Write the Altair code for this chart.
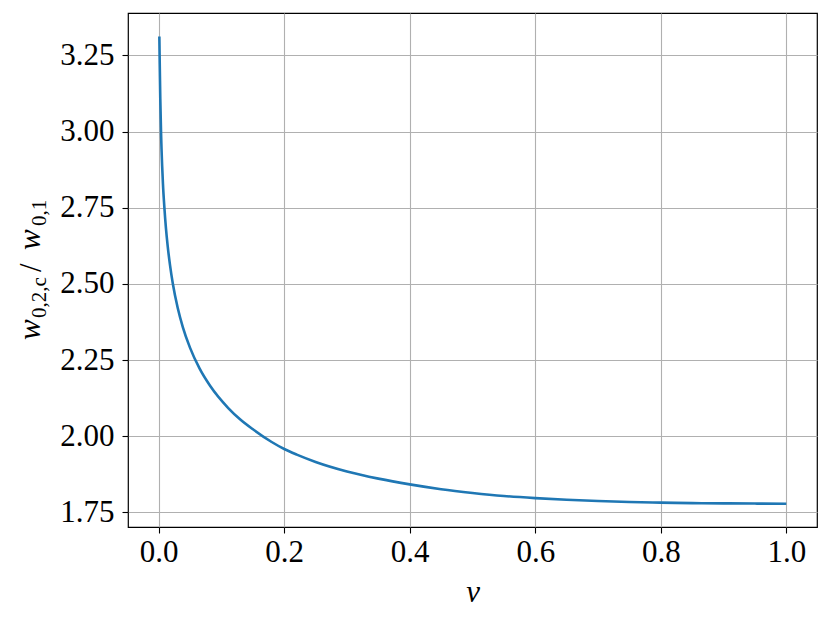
import altair as alt
import pandas as pd

# values
nu = [0.001, 0.0016, 0.0025, 0.0037, 0.0055, 0.0067, 0.009, 0.0115, 0.01426, 0.018,
      0.0225, 0.0302, 0.0385, 0.0498, 0.065, 0.0821, 0.1108, 0.13, 0.1496, 0.18,
      0.2, 0.22, 0.25, 0.3, 0.35, 0.4, 0.45, 0.5, 0.55, 0.6,
      0.65, 0.7, 0.75, 0.8, 0.85, 0.9, 0.95, 1.0]
ratio = [3.312, 3.225, 3.108, 2.9965, 2.886, 2.830, 2.751, 2.683, 2.6245, 2.5614,
         2.5003, 2.4215, 2.3575, 2.2907, 2.2225, 2.1647, 2.0925, 2.0548, 2.0235, 1.981,
         1.958, 1.9395, 1.9155, 1.8843, 1.8608, 1.8418, 1.826, 1.8138, 1.8038, 1.7968,
         1.7913, 1.7873, 1.7841, 1.782, 1.7805, 1.7795, 1.7789, 1.7785]
x_ticks = [0.0, 0.2, 0.4, 0.6, 0.8, 1.0]
y_ticks = [1.75, 2.00, 2.25, 2.50, 2.75, 3.00, 3.25]

df = pd.DataFrame({"nu": nu, "ratio": ratio})

FONT = "Liberation Serif"
W, H = 689, 514

line = alt.Chart(df).mark_line(color="#1f77b4", strokeWidth=2.6, interpolate="monotone").encode(
    x=alt.X("nu:Q",
            scale=alt.Scale(domain=[-0.04895, 1.04895], nice=False, zero=False),
            axis=alt.Axis(values=x_ticks, format=".1f", title="ν",
                          titleFont=FONT, titleFontStyle="italic", titleFontWeight="normal",
                          titleFontSize=31, titleColor="black", titlePadding=10,
                          grid=True, gridColor="#b0b0b0", gridWidth=1.1,
                          domain=False, tickColor="black", tickSize=6, tickWidth=1.1,
                          labelFont=FONT, labelFontSize=31, labelColor="black",
                          labelPadding=4)),
    y=alt.Y("ratio:Q",
            scale=alt.Scale(domain=[1.702, 3.389], nice=False, zero=False),
            axis=alt.Axis(values=y_ticks, format=".2f", title=None,
                          grid=True, gridColor="#b0b0b0", gridWidth=1.1,
                          domain=False, tickColor="black", tickSize=6, tickWidth=1.1,
                          labelFont=FONT, labelFontSize=31, labelColor="black",
                          labelPadding=8)),
)


def seg(text, x, y, size, italic):
    return alt.Chart(alt.Data(values=[{}])).mark_text(
        text=text, font=FONT, fontSize=size, fontStyle="italic" if italic else "normal",
        angle=270, align="left", baseline="alphabetic", color="black",
    ).encode(x=alt.value(x), y=alt.value(y))


title_layers = [
    seg("w", -87.6, 327, 31, True),
    seg("0,2,c", -81.6, 305, 21, False),
    seg("/", -86.6, 259, 31, False),
    seg("w", -87.6, 237, 31, True),
    seg("0,1", -81.6, 213, 21, False),
]

chart = alt.layer(line, *title_layers).properties(
    width=W, height=H,
    autosize=alt.AutoSizeParams(type="none"),
    padding={"left": 120, "top": 5, "right": 5, "bottom": 86},
).configure(
    background="white",
    view=alt.ViewConfig(stroke="black", strokeWidth=1.2),
)

chart.save("out.html", embed_options={"renderer": "svg", "actions": False})
